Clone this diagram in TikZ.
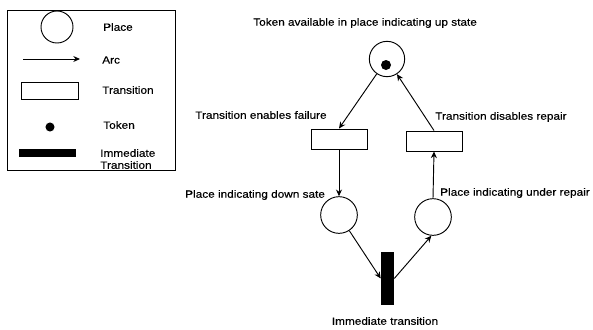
\documentclass[tikz,border=0pt]{standalone}
\usepackage{fontspec}
\setmainfont[FakeStretch=1.12, FakeBold=0.35]{Liberation Sans}
\usetikzlibrary{arrows.meta}
\begin{document}
\begin{tikzpicture}[x=0.75pt, y=-0.75pt,
    every node/.style={font=\fontsize{7.9pt}{9pt}\selectfont},
    place/.style={draw, circle, line width=0.7pt, minimum size=26.5pt, inner sep=0pt},
    trans/.style={draw, rectangle, line width=0.7pt, minimum width=42pt, minimum height=15pt, inner sep=0pt},
    immtrans/.style={fill=black, rectangle, minimum width=9.75pt, minimum height=39.75pt, inner sep=0pt},
    token/.style={fill=black, circle, minimum size=7.5pt, inner sep=0pt},
    arc/.style={-{Stealth[length=5pt, width=4.5pt]}, line width=0.7pt},
    lbl/.style={anchor=west, inner sep=0pt}]
        \useasboundingbox (0,0) rectangle (593,329);

        % Legend
        \draw[line width=0.7pt] (7,10) rectangle (175,170);
        \node[place, minimum size=24pt] (lplace) at (57,27) {};
        \node[lbl] (lplacetxt) at (103,27) {Place};
        \coordinate (larcA) at (23,59);
        \coordinate (larcB) at (80,59);
        \draw[arc] (larcA) -- (larcB);
        \node[lbl] (larctxt) at (102,60) {Arc};
        \node[trans, minimum width=42.75pt, minimum height=12.75pt] (ltrans) at (49.5,90.5) {};
        \node[lbl] (ltranstxt) at (102,90) {Transition};
        \node[token, minimum size=6.8pt] (ltoken) at (50,127) {};
        \node[lbl] (ltokentxt) at (103,125) {Token};
        \node[immtrans, minimum width=42.75pt, minimum height=6pt] (limm) at (47.5,153) {};
        \node[lbl, align=left] (limmtxt) at (100,159) {Immediate\\Transition};

        % Places
        \node[place] (up) at (387,59) {};
        \node[token] (tok) at (386,65) {};
        \node[place, minimum size=27.5pt] (down) at (339,215) {};
        \node[place, minimum size=27.5pt] (rep) at (433,217) {};

        % Transitions
        \node[trans] (fail) at (339,139) {};
        \node[trans] (repair) at (434,141) {};
        \node[immtrans] (imm) at (387.5,278.5) {};

        % Labels
        \node[lbl] (uptxt) at (253,23) {Token available in place indicating up state};
        \node[lbl] (failtxt) at (195,115) {Transition enables failure};
        \node[lbl] (repairtxt) at (435,117) {Transition disables repair};
        \node[lbl] (downtxt) at (185,195) {Place indicating down sate};
        \node[lbl] (reptxt) at (440,193) {Place indicating under repair};
        \node (immtxt) at (385,321) {Immediate transition};

        % Arcs
        \draw[arc] (up) -- (fail.north);
        \draw[arc] (fail.south) -- (down.north);
        \draw[arc] (down) -- (imm.west);
        \draw[arc] (imm.east) -- (rep.265);
        \draw[arc] (rep.north) -- (repair.south);
        \draw[arc] (repair.north) -- (up);
\end{tikzpicture}
\end{document}
